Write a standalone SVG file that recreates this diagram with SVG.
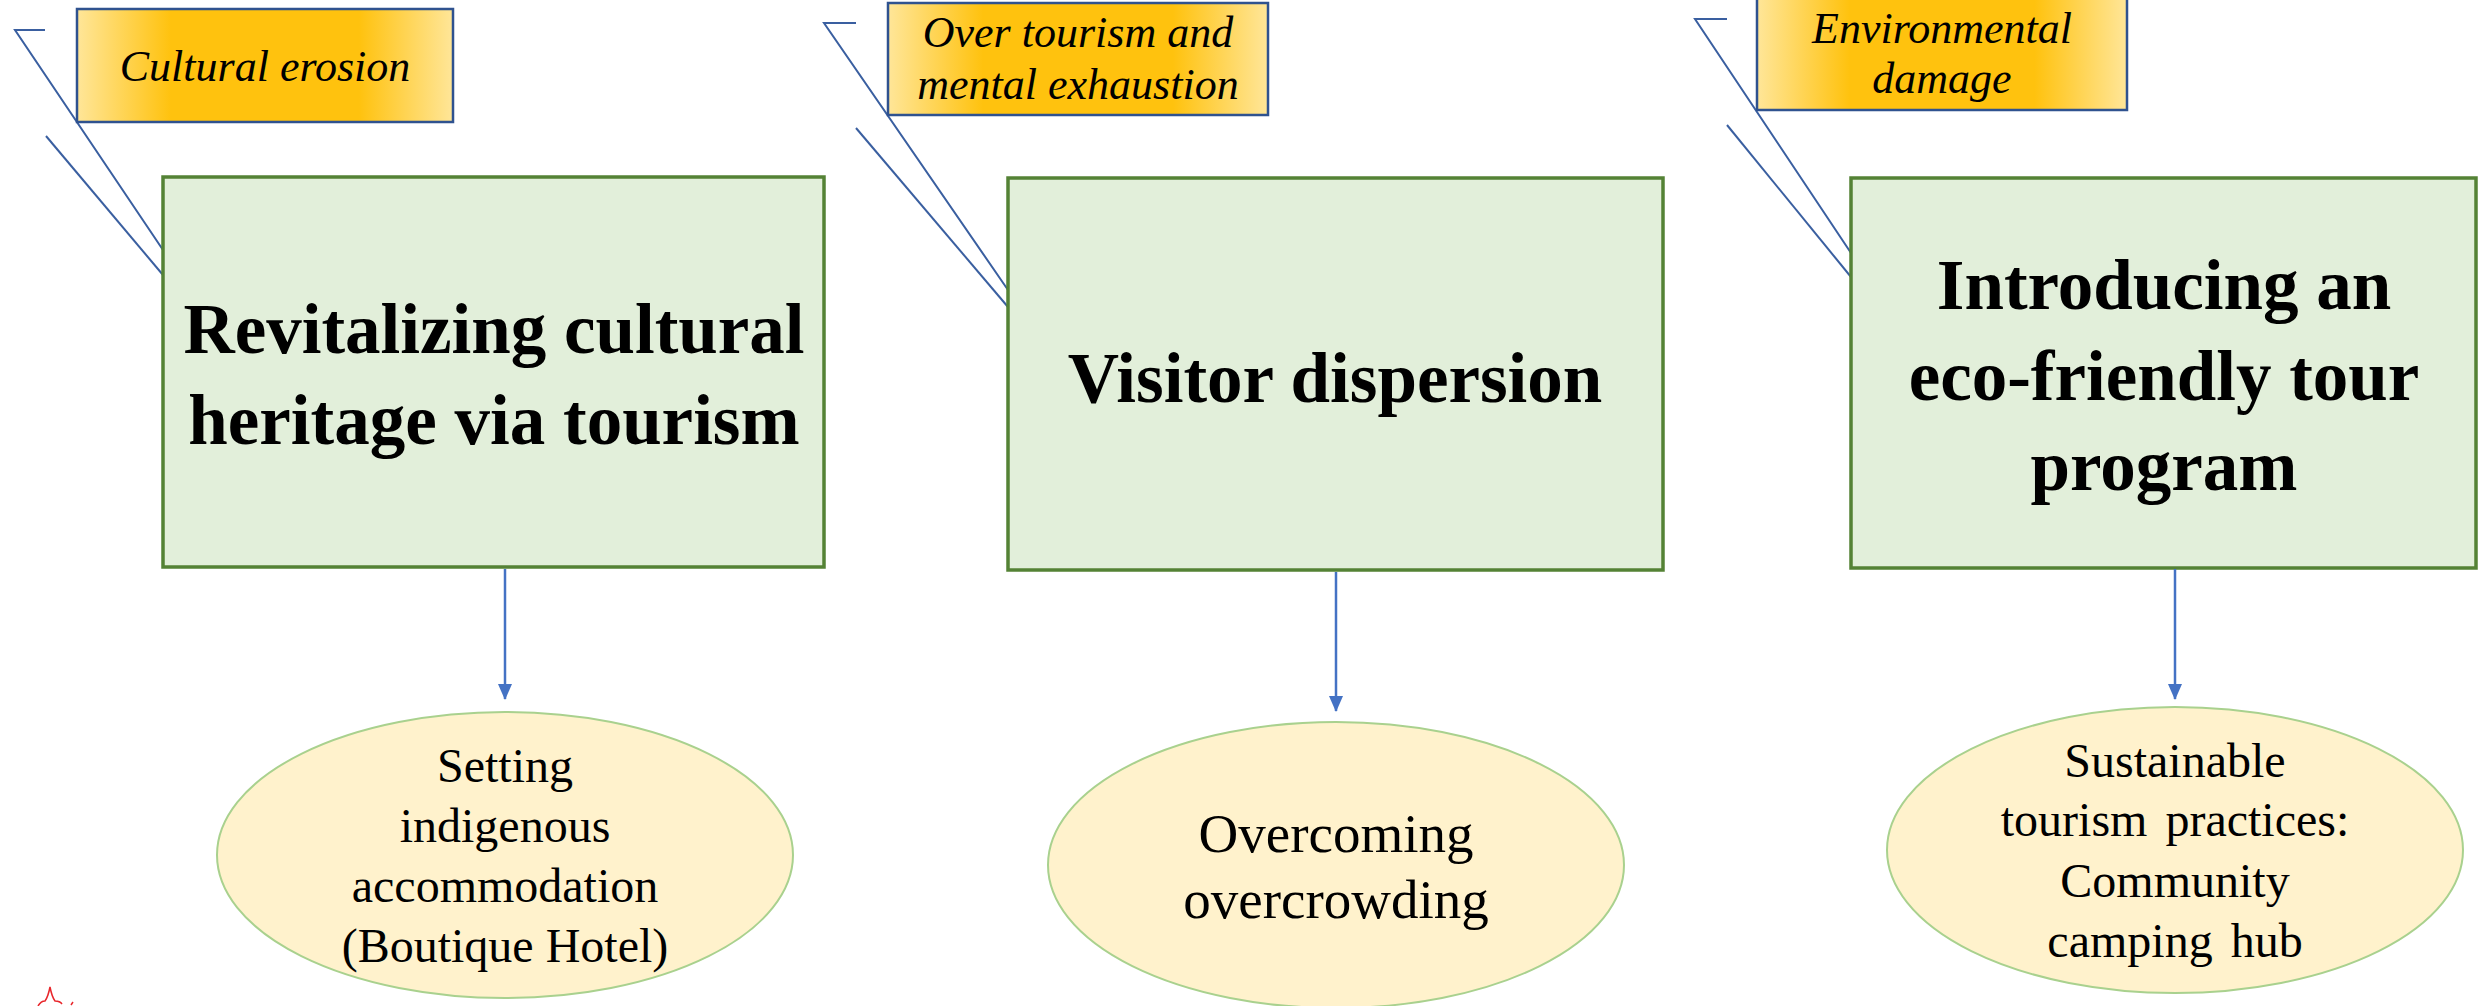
<svg xmlns="http://www.w3.org/2000/svg" width="2479" height="1006" viewBox="0 0 2479 1006">
<style>
.tag{stroke:#2F528F;stroke-width:2.5;fill:url(#gold)}
.tagtxt{font-family:"Liberation Serif","Times New Roman",serif;font-style:italic;font-size:44px;fill:#000;text-anchor:middle}
.callout{fill:none;stroke:#3A5FA0;stroke-width:2}
.box{fill:#E2EFDA;stroke:#548235;stroke-width:3.5}
.title{font-family:"Liberation Serif","Times New Roman",serif;font-weight:bold;font-size:71px;fill:#000;text-anchor:middle}
.oval{fill:#FFF2CC;stroke:#A9D18E;stroke-width:2}
.ovtxt{font-family:"Liberation Serif","Times New Roman",serif;font-size:48px;fill:#000;text-anchor:middle}
.ovbig{font-size:55px}
.arrow{stroke:#4472C4;stroke-width:2.5;fill:none;marker-end:url(#ah)}
</style>
<defs>
<linearGradient id="gold" x1="0" y1="0" x2="1" y2="0">
<stop offset="0" stop-color="#FFE699"/>
<stop offset="0.25" stop-color="#FFC20E"/>
<stop offset="0.75" stop-color="#FFC20E"/>
<stop offset="1" stop-color="#FFE699"/>
</linearGradient>
<marker id="ah" markerWidth="16" markerHeight="14" refX="15" refY="7" orient="auto" markerUnits="userSpaceOnUse" viewBox="0 0 16 14">
<path d="M0,0 L16,7 L0,14 Z" fill="#4472C4"/>
</marker>
</defs>
<rect width="2479" height="1006" fill="#FFFFFF"/>

<g id="callouts">
<path class="callout" d="M45,30 L15,30 L163,250"/>
<path class="callout" d="M46,136 L163,275"/>
<path class="callout" d="M856,23 L824,23 L1008,290"/>
<path class="callout" d="M856,128 L1008,307"/>
<path class="callout" d="M1727,19 L1695,19 L1851,253"/>
<path class="callout" d="M1727,125 L1851,277"/>
</g>

<g id="tag-cultural-erosion">
<rect class="tag" x="77" y="9" width="376" height="113"/>
<text class="tagtxt" x="265" y="81">Cultural erosion</text>
</g>
<g id="tag-over-tourism">
<rect class="tag" x="888" y="3" width="380" height="112"/>
<text class="tagtxt" x="1078" y="47">Over tourism and</text>
<text class="tagtxt" x="1078" y="99">mental exhaustion</text>
</g>
<g id="tag-environmental">
<rect class="tag" x="1757" y="-3" width="370" height="113"/>
<text class="tagtxt" x="1942" y="43">Environmental</text>
<text class="tagtxt" x="1942" y="93">damage</text>
</g>

<g id="box-revitalizing">
<rect class="box" x="163" y="177" width="661" height="390"/>
<text class="title" x="494" y="353">Revitalizing cultural</text>
<text class="title" x="494" y="444">heritage via tourism</text>
</g>
<g id="box-visitor">
<rect class="box" x="1008" y="178" width="655" height="392"/>
<text class="title" x="1335" y="402">Visitor dispersion</text>
</g>
<g id="box-eco">
<rect class="box" x="1851" y="178" width="625" height="390"/>
<text class="title" x="2164" y="309">Introducing an</text>
<text class="title" x="2164" y="400">eco-friendly tour</text>
<text class="title" x="2164" y="490">program</text>
</g>

<g id="connectors">
<line class="arrow" x1="505" y1="569" x2="505" y2="699"/>
<line class="arrow" x1="1336" y1="572" x2="1336" y2="711"/>
<line class="arrow" x1="2175" y1="569" x2="2175" y2="699"/>
</g>

<g id="oval-boutique">
<ellipse class="oval" cx="505" cy="855" rx="288" ry="143"/>
<text class="ovtxt" x="505" y="782">Setting</text>
<text class="ovtxt" x="505" y="842">indigenous</text>
<text class="ovtxt" x="505" y="902">accommodation</text>
<text class="ovtxt" x="505" y="962">(Boutique Hotel)</text>
</g>
<g id="oval-overcrowding">
<ellipse class="oval" cx="1336" cy="865" rx="288" ry="143"/>
<text class="ovtxt ovbig" x="1336" y="852">Overcoming</text>
<text class="ovtxt ovbig" x="1336" y="918">overcrowding</text>
</g>
<g id="oval-camping">
<ellipse class="oval" cx="2175" cy="850" rx="288" ry="143"/>
<text class="ovtxt" x="2175" y="777">Sustainable</text>
<text class="ovtxt" x="2175" y="836" word-spacing="6">tourism practices:</text>
<text class="ovtxt" x="2175" y="897">Community</text>
<text class="ovtxt" x="2175" y="957" word-spacing="6">camping hub</text>
</g>

<path d="M38,1006 Q41,1001 45,1001 Q48,997 50,987 Q52,997 55,1001 Q60,1001 62,1004 M71,1005 L73,1002" fill="none" stroke="#E8262B" stroke-width="1.5"/>
</svg>
